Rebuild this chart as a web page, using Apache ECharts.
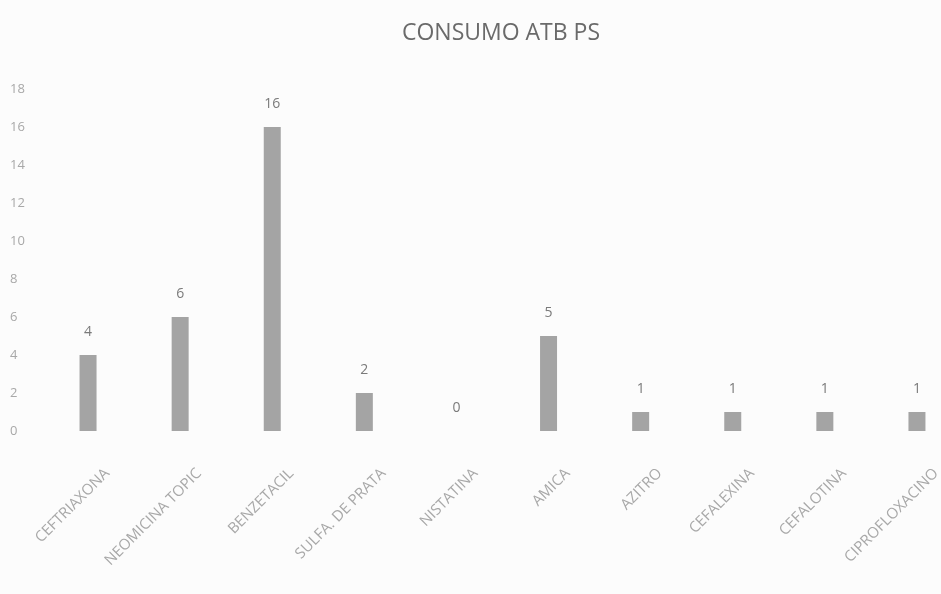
<!DOCTYPE html>
<html><head><meta charset="utf-8">
<script src="https://cdn.jsdelivr.net/npm/echarts@6/dist/echarts.min.js"></script>
<style>html,body{margin:0;padding:0;background:#fcfcfc}#c{width:941px;height:594px}</style>
</head><body><div id="c"></div>
<script>
const categories = ['CEFTRIAXONA','NEOMICINA TOPIC','BENZETACIL','SULFA. DE PRATA','NISTATINA','AMICA','AZITRO','CEFALEXINA','CEFALOTINA','CIPROFLOXACINO'];
const values = [4, 6, 16, 2, 0, 5, 1, 1, 1, 1];
const yTicks = {min: 0, max: 18, interval: 2};
const titleText = 'CONSUMO ATB PS';

const chart = echarts.init(document.getElementById('c'), null, {renderer: 'canvas'});
chart.setOption({
  backgroundColor: '#fcfcfc',
  animation: false,
  title: {text: titleText, left: 496, top: 17, textAlign: 'center',
    textStyle: {fontFamily: 'Open Sans', fontWeight: 'normal', fontSize: 23, color: '#6a6a6a'}},
  grid: {left: 42, width: 921, top: 89, bottom: 163, containLabel: false, outerBoundsMode: 'none'},
  xAxis: {type: 'category', data: categories,
    axisLine: {show: false}, axisTick: {show: false},
    axisLabel: {rotate: 45, interval: 0, margin: 21, verticalAlign: 'top', lineHeight: 54,
      fontFamily: 'Open Sans', fontSize: 15, color: '#a8a8a8'}},
  yAxis: {type: 'value', min: yTicks.min, max: yTicks.max, interval: yTicks.interval,
    splitLine: {show: false}, axisLine: {show: false}, axisTick: {show: false},
    axisLabel: {margin: 32, fontFamily: 'Open Sans', fontSize: 13, color: '#a8a8a8', align: 'left'}},
  series: [{type: 'bar', data: values, barWidth: 17,
    itemStyle: {color: '#a4a4a4'},
    label: {show: true, position: 'top', distance: 16, fontFamily: 'Open Sans', fontSize: 14, color: '#7a7a7a'}}]
});
</script></body></html>
